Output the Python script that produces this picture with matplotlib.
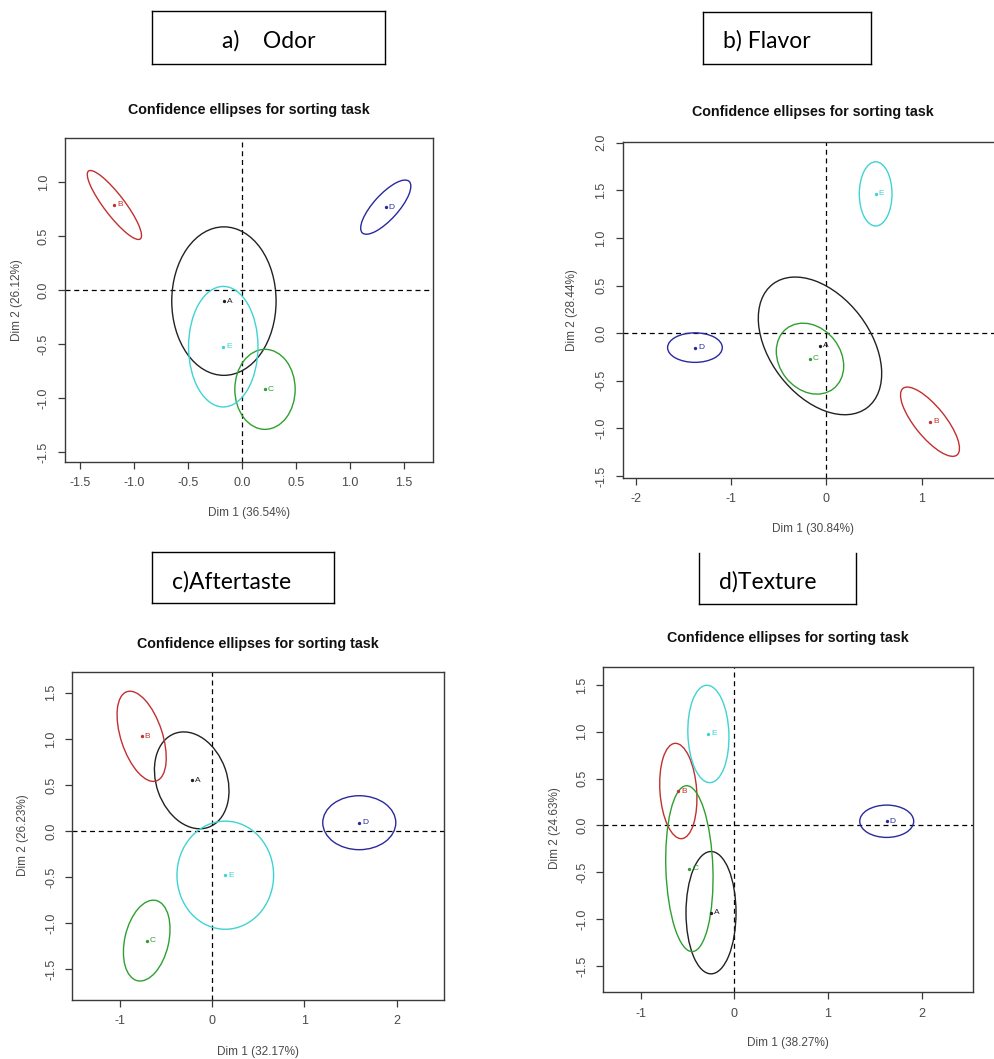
import matplotlib
matplotlib.use("Agg")
import matplotlib.pyplot as plt
from matplotlib.patches import Ellipse
from matplotlib.lines import Line2D

W, H = 995, 1059

# ---------------- data ----------------
groups = ["A", "B", "C", "D", "E"]
group_colors = ["#222222", "#C23030", "#2FA02F", "#2A2A9E", "#3FD3D3"]

panel_titles = ["a)    Odor", "b) Flavor", "c)Aftertaste", "d)Texture"]
plot_title = "Confidence ellipses for sorting task"
xlabels = ["Dim 1 (36.54%)", "Dim 1 (30.84%)", "Dim 1 (32.17%)", "Dim 1 (38.27%)"]
ylabels = ["Dim 2 (26.12%)", "Dim 2 (28.44%)", "Dim 2 (26.23%)", "Dim 2 (24.63%)"]

# group centres (Dim1, Dim2)
odor_x = [-0.167, -1.18, 0.213, 1.33, -0.173]
odor_y = [-0.10, 0.79, -0.917, 0.77, -0.522]
flavor_x = [-0.067, 1.087, -0.172, -1.379, 0.517]
flavor_y = [-0.134, -0.93, -0.268, -0.152, 1.462]
after_x = [-0.222, -0.765, -0.71, 1.595, 0.142]
after_y = [0.55, 1.028, -1.19, 0.09, -0.48]
texture_x = [-0.249, -0.598, -0.48, 1.627, -0.277]
texture_y = [-0.931, 0.368, -0.461, 0.045, 0.977]

# confidence ellipses: full width, full height, rotation (deg)
odor_ew = [0.965, 0.79, 0.558, 0.644, 0.642]
odor_eh = [1.375, 0.19, 0.741, 0.23, 1.116]
odor_ea = [0, -52.7, 0, 47.9, 0]
flavor_ew = [1.632, 0.90, 0.80, 0.574, 0.343]
flavor_eh = [1.05, 0.32, 0.644, 0.31, 0.674]
flavor_ea = [-52.7, -51, -52, 0, 0]
after_ew = [1.082, 1.02, 0.894, 0.792, 1.048]
after_eh = [0.768, 0.45, 0.476, 0.586, 1.174]
after_ea = [-70.5, -71.8, 77, 0, 0]
texture_ew = [0.534, 0.392, 0.502, 0.576, 0.438]
texture_eh = [1.306, 1.02, 1.772, 0.345, 1.04]
texture_ea = [0, 4, 2, 0, 2]

# axis ranges and ticks
xlims = [(-1.637, 1.767), (-2.137, 2.3), (-1.517, 2.517), (-1.399, 2.545)]
ylims = [(-1.587, 1.413), (-1.518, 2.01), (-1.835, 1.723), (-1.781, 1.695)]
xticks = [[-1.5, -1.0, -0.5, 0.0, 0.5, 1.0, 1.5], [-2, -1, 0, 1], [-1, 0, 1, 2], [-1, 0, 1, 2]]
xticklabels = [["-1.5", "-1.0", "-0.5", "0.0", "0.5", "1.0", "1.5"], ["-2", "-1", "0", "1"],
               ["-1", "0", "1", "2"], ["-1", "0", "1", "2"]]
yticks = [[-1.5, -1.0, -0.5, 0.0, 0.5, 1.0], [-1.5, -1.0, -0.5, 0.0, 0.5, 1.0, 1.5, 2.0],
          [-1.5, -1.0, -0.5, 0.0, 0.5, 1.0, 1.5], [-1.5, -1.0, -0.5, 0.0, 0.5, 1.0, 1.5]]
yticklabels = [["-1.5", "-1.0", "-0.5", "0.0", "0.5", "1.0"],
               ["-1.5", "-1.0", "-0.5", "0.0", "0.5", "1.0", "1.5", "2.0"],
               ["-1.5", "-1.0", "-0.5", "0.0", "0.5", "1.0", "1.5"],
               ["-1.5", "-1.0", "-0.5", "0.0", "0.5", "1.0", "1.5"]]

panels_x = [odor_x, flavor_x, after_x, texture_x]
panels_y = [odor_y, flavor_y, after_y, texture_y]
panels_ew = [odor_ew, flavor_ew, after_ew, texture_ew]
panels_eh = [odor_eh, flavor_eh, after_eh, texture_eh]
panels_ea = [odor_ea, flavor_ea, after_ea, texture_ea]

# ---------------- layout (pixels) ----------------
axes_px = [(65, 137.7, 433, 461.7), (622.7, 141.7, 1045.6, 477.7),
           (72.3, 672.3, 444.3, 1000), (603.3, 666.7, 972.7, 992.3)]
title_pos = [(248.7, 110), (813, 112), (258, 644.3), (788, 638.3)]
xlabel_pos = [(249, 512.7), (813, 529), (258, 1051.7), (788.3, 1043.3)]
ylabel_pos = [(17.3, 300), (571.7, 310), (23.3, 835), (555, 828.3)]
# label boxes: left, top, right, bottom; text x, baseline y
boxes = [(152.3, 11, 385, 64.3), (702.7, 12, 870.7, 64), (152.3, 551.7, 334.3, 603.3), (699, 553, 856, 604)]
box_text = [(268.5, 48, "center"), (723, 48, "left"), (172.3, 589, "left"), (719.3, 589, "left")]
box_top = [True, True, True, False]


def fx(p):
    return p / W


def fy(p):
    return 1 - p / H


plt.rcParams["font.family"] = ["Liberation Sans", "DejaVu Sans"]
fig = plt.figure(figsize=(W / 100, H / 100), dpi=100)
fig.patch.set_facecolor("white")

frame_col = "#3a3a3a"
tick_col = "#4a4a4a"

for i in range(4):
    l, t, r, b = axes_px[i]
    ax = fig.add_axes([fx(l), fy(b), (r - l) / W, (b - t) / H])
    ax.set_xlim(*xlims[i])
    ax.set_ylim(*ylims[i])
    ax.axhline(0, color="black", lw=0.9, ls=(0, (4, 3)), zorder=1)
    ax.axvline(0, color="black", lw=0.9, ls=(0, (4, 3)), zorder=1)
    for j, g in enumerate(groups):
        cx, cy = panels_x[i][j], panels_y[i][j]
        ax.add_patch(Ellipse((cx, cy), panels_ew[i][j], panels_eh[i][j], angle=panels_ea[i][j],
                             fill=False, edgecolor=group_colors[j], lw=1.0, zorder=2))
        ax.plot([cx], [cy], "o", ms=1.4, color=group_colors[j], zorder=3)
        ax.annotate(g, (cx, cy), xytext=(2.2, 0), textcoords="offset points", fontsize=6,
                    color=group_colors[j], va="center", ha="left", zorder=3)
    ax.set_xticks(xticks[i])
    ax.set_xticklabels(xticklabels[i])
    ax.set_yticks(yticks[i])
    ax.set_yticklabels(yticklabels[i], rotation=90, va="center")
    ax.tick_params(direction="out", length=5, width=0.9, color=frame_col, labelcolor=tick_col,
                   labelsize=9, pad=6)
    for s in ax.spines.values():
        s.set_color(frame_col)
        s.set_linewidth(1.0)

    tx, ty = title_pos[i]
    fig.text(fx(tx), fy(ty), plot_title, ha="center", va="center", fontsize=10.3,
             fontweight="bold", color="#111111")
    lx, ly = xlabel_pos[i]
    fig.text(fx(lx), fy(ly), xlabels[i], ha="center", va="center", fontsize=8.5, color=tick_col)
    yx, yy = ylabel_pos[i]
    fig.text(fx(yx), fy(yy), ylabels[i], ha="center", va="center", fontsize=8.5, color=tick_col,
             rotation=90)

    bl, bt, br, bb = boxes[i]
    lines = [((bl, bl), (bt, bb)), ((br, br), (bt, bb)), ((bl, br), (bb, bb))]
    if box_top[i]:
        lines.append(((bl, br), (bt, bt)))
    for xs, ys in lines:
        fig.add_artist(Line2D([fx(xs[0]), fx(xs[1])], [fy(ys[0]), fy(ys[1])], color="black", lw=1.0))
    bx, by, ha = box_text[i]
    fig.text(fx(bx), fy(by), panel_titles[i], ha=ha, va="baseline", fontsize=16.5,
             family=["Lato", "DejaVu Sans"], color="black")

fig.savefig("out.png", dpi=100, facecolor="white")
